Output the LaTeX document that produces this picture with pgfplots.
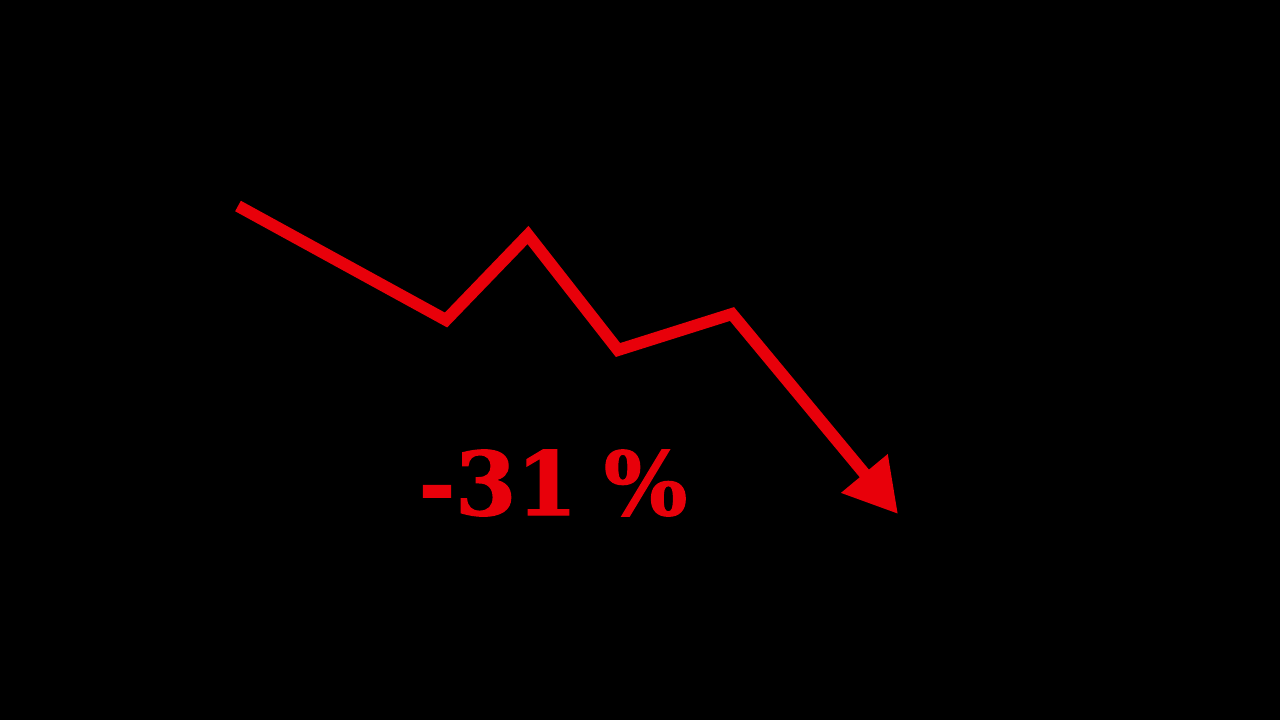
\documentclass[border=0pt]{standalone}
\usepackage{fontspec}
\setmainfont{DejaVu Serif}
\usepackage{pgfplots}
\pgfplotsset{compat=1.18}
\usetikzlibrary{arrows.meta}
\definecolor{dropred}{RGB}{232,0,10}

\begin{document}
\begin{tikzpicture}
  % pixel grid of the reference: 1 px = 0.01 cm
  \begin{axis}[
      width=12.8cm, height=7.2cm, scale only axis,
      xmin=0, xmax=1280, ymin=0, ymax=720,
      y dir=reverse,
      axis lines=none,
      axis background/.style={fill=black},
      clip=false,
    ]
    \fill[black] (rel axis cs:0,0) rectangle (rel axis cs:1,1);

    % trend line, ending in the arrow head
    \addplot[dropred, line width=3.4pt, line join=miter, line cap=butt,
             -{Triangle[length=15pt, width=16.3pt]}]
      coordinates {
        (238,206) (446,320) (528,235) (618,350) (732,314) (898,514)
      };

    \node[text=dropred, font=\bfseries\fontsize{25}{25}\selectfont,
          anchor=base, inner xsep=0pt] at (axis cs:553,515)
      {\addfontfeatures{FakeBold=1.5}-31\hspace{0.3em}\%};
  \end{axis}
\end{tikzpicture}
\end{document}
